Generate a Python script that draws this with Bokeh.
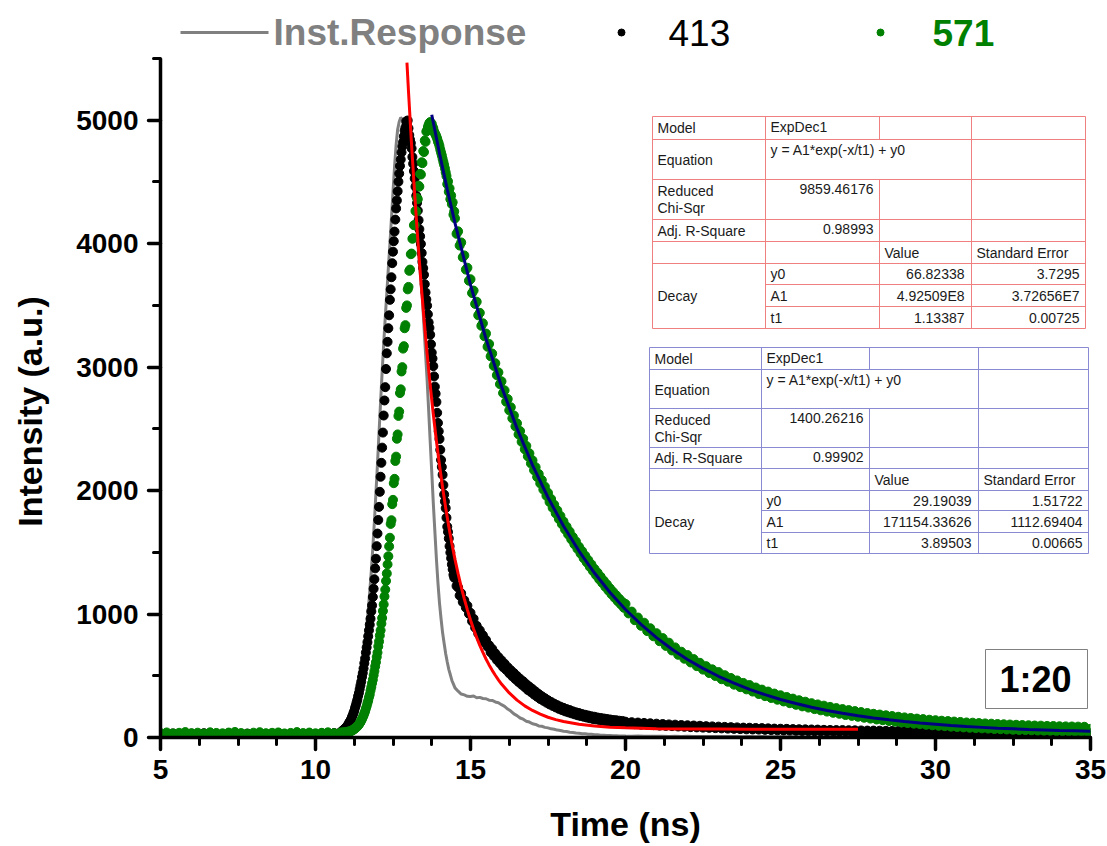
import numpy as np
from bokeh.plotting import figure
from bokeh.models import Range1d, SingleIntervalTicker
from bokeh.core.properties import value
from bokeh.embed import file_html
from bokeh.resources import INLINE

FONT = "Liberation Sans"

# ---------------- data ----------------
# time channels (ns) for the measured decays
t_base = np.round(5.0 + 0.2 * np.arange(29), 3)      # 5.0 .. 10.6
t_peak = np.round(10.8 + 0.025 * np.arange(148), 3)  # 10.8 .. 14.475
t_decay = np.round(14.5 + 0.05 * np.arange(110), 3)  # 14.5 .. 19.95
t_tail = np.round(20.0 + 0.1 * np.arange(151), 3)    # 20.0 .. 35.0

# time channels (ns) for the instrument response line
ti_base = np.round(5.0 + 0.2 * np.arange(29), 3)
ti_peak = np.round(10.8 + 0.05 * np.arange(74), 3)
ti_decay = np.round(14.5 + 0.1 * np.arange(55), 3)
ti_tail = np.round(20.0 + 0.2 * np.arange(76), 3)

inst_base = [22, 26, 24, 21, 27, 25, 23, 28, 24, 22, 26, 25, 21, 27, 24, 23, 26, 22, 25, 28,
             24, 21, 26, 25, 23, 27, 24, 26, 28]
inst_peak = [30, 35, 41, 52, 63, 82, 104, 137, 168, 217,
             263, 328, 392, 478, 562, 668, 772, 898, 1028, 1182,
             1348, 1542, 1748, 1982, 2218, 2472, 2718, 2962, 3188, 3402,
             3598, 3802, 3998, 4205, 4418, 4622, 4798, 4925, 4988, 5022,
             5008, 4992, 4958, 4905, 4838, 4782, 4648, 4482, 4328, 4172,
             3998, 3852, 3698, 3552, 3328, 3112, 2898, 2652, 2398, 2152,
             1898, 1672, 1448, 1252, 1088, 962, 848, 762, 678, 612,
             552, 508, 462, 432]
inst_decay = [402, 375, 352, 345, 334, 332, 336, 322, 325, 316,
              314, 302, 300, 288, 282, 266, 252, 230, 214, 191,
              177, 158, 148, 132, 125, 111, 106, 94, 91, 82,
              78, 70, 67, 60, 57, 51, 49, 43, 41, 36,
              35, 30, 30, 26, 26, 22, 22, 19, 19, 16,
              17, 14, 15, 13, 13]
inst_tail = [12, 11, 12, 10, 11, 10, 11, 9, 10, 9,
             10, 9, 9, 8, 9, 8, 9, 8, 8, 7,
             8, 7, 8, 7, 7, 6, 7, 6, 7, 6,
             7, 6, 6, 5, 6, 5, 6, 5, 6, 5,
             6, 5, 5, 4, 5, 4, 5, 4, 5, 4,
             5, 4, 5, 4, 4, 3, 4, 3, 4, 3,
             4, 3, 4, 3, 4, 3, 3, 2, 3, 2,
             3, 2, 3, 2, 3, 2]

em413_base = [31, 27, 33, 29, 26, 32, 30, 35, 28, 31, 27, 34, 30, 26, 32, 29, 33, 28, 31, 35,
              27, 30, 33, 29, 32, 28, 34, 31, 36]
em413_peak = [40, 44, 52, 55, 61, 66, 73, 79,
              85, 95, 101, 114, 126, 136, 149, 166,
              180, 198, 216, 240, 260, 284, 306, 336,
              360, 392, 422, 452, 490, 522, 560, 602,
              640, 688, 730, 772, 820, 868, 914, 962,
              1022, 1070, 1138, 1205, 1282, 1370, 1448, 1550,
              1652, 1762, 1868, 1990, 2112, 2225, 2348, 2470,
              2608, 2730, 2838, 2985, 3112, 3205, 3315, 3420,
              3545, 3630, 3728, 3842, 3935, 4020, 4098, 4195,
              4285, 4350, 4425, 4502, 4568, 4630, 4682, 4740,
              4788, 4822, 4870, 4915, 4942, 4990, 4975, 4998,
              4935, 4880, 4842, 4815, 4772, 4702, 4648, 4588,
              4528, 4462, 4388, 4330, 4268, 4190, 4118, 4060,
              3998, 3925, 3852, 3802, 3748, 3672, 3605, 3548,
              3498, 3428, 3362, 3318, 3262, 3185, 3118, 3070,
              3008, 2925, 2842, 2785, 2718, 2630, 2548, 2480,
              2418, 2330, 2248, 2192, 2128, 2045, 1968, 1912,
              1858, 1780, 1708, 1665, 1612, 1550, 1498, 1452,
              1402, 1362, 1318, 1295]
em413_decay = [1292, 1228, 1215, 1150, 1168, 1098, 1112, 1052, 1068, 1002,
               1010, 942, 962, 890, 905, 842, 868, 800, 828, 770,
               790, 735, 748, 690, 718, 660, 682, 628, 652, 600,
               625, 570, 598, 548, 570, 520, 545, 495, 522, 472,
               498, 450, 475, 428, 455, 408, 432, 385, 412, 368,
               392, 348, 372, 330, 352, 312, 334, 298, 318, 282,
               302, 268, 288, 256, 274, 244, 262, 232, 250, 222,
               240, 212, 230, 204, 222, 196, 212, 188, 204, 180,
               198, 174, 190, 168, 184, 162, 178, 156, 172, 150,
               168, 146, 162, 142, 158, 138, 154, 134, 150, 130,
               146, 126, 142, 124, 140, 120, 136, 118, 134, 115]
em413_tail = [128, 112, 124, 108, 121, 104, 118, 103, 115, 100,
              112, 96, 109, 94, 106, 92, 104, 89, 101, 87,
              99, 84, 97, 82, 95, 80, 92, 78, 90, 76,
              88, 74, 86, 72, 84, 70, 82, 68, 80, 66,
              79, 65, 77, 64, 76, 62, 74, 60, 72, 58,
              71, 57, 70, 56, 68, 55, 67, 53, 66, 52,
              65, 51, 64, 50, 62, 49, 61, 48, 60, 47,
              60, 46, 59, 45, 58, 44, 57, 43, 56, 42,
              56, 42, 55, 41, 54, 40, 53, 40, 52, 39,
              52, 38, 51, 38, 50, 37, 50, 36, 49, 36,
              49, 35, 48, 35, 47, 34, 47, 34, 46, 33,
              46, 33, 45, 32, 45, 32, 44, 31, 44, 31,
              43, 30, 43, 30, 42, 29, 42, 29, 41, 28,
              41, 28, 40, 28, 40, 27, 39, 27, 39, 26,
              38, 26, 38, 25, 37, 25, 37, 24, 36, 24,
              30]

em571_base = [36, 41, 33, 38, 44, 35, 39, 32, 42, 37, 34, 40, 45, 36, 31, 39, 43, 35, 38, 41,
              33, 37, 44, 36, 40, 34, 38, 42, 35]
em571_peak = [37, 41, 36, 40, 38, 43, 39, 42,
              41, 46, 44, 49, 47, 53, 52, 58,
              58, 66, 67, 75, 77, 86, 89, 99,
              104, 116, 124, 138, 149, 164, 178, 196,
              213, 234, 254, 278, 298, 326, 348, 380,
              408, 440, 468, 505, 538, 576, 610, 652,
              688, 738, 778, 826, 868, 922, 968, 1025,
              1078, 1142, 1198, 1268, 1328, 1402, 1468, 1548,
              1618, 1730, 1760, 1890, 1925, 2060, 2095, 2240,
              2275, 2420, 2455, 2605, 2640, 2790, 2820, 2965,
              3000, 3150, 3170, 3315, 3340, 3480, 3500, 3630,
              3650, 3780, 3790, 3915, 3920, 4040, 4045, 4150,
              4150, 4265, 4262, 4370, 4360, 4470, 4462, 4565,
              4560, 4660, 4652, 4750, 4742, 4836, 4825, 4908,
              4918, 4945, 4962, 4978, 4985, 4968, 4972, 4948,
              4935, 4910, 4895, 4882, 4868, 4850, 4828, 4812,
              4790, 4762, 4738, 4715, 4688, 4662, 4638, 4610,
              4578, 4548, 4482, 4505, 4420, 4448, 4360, 4390,
              4320, 4335, 4235, 4262]
em571_decay = [4205, 4080, 4100, 3985, 4010, 3890, 3905, 3790, 3805, 3700,
               3712, 3600, 3620, 3512, 3530, 3420, 3440, 3335, 3355, 3250,
               3272, 3165, 3188, 3088, 3110, 3010, 3032, 2935, 2958, 2862,
               2885, 2790, 2812, 2720, 2742, 2650, 2675, 2585, 2608, 2520,
               2545, 2455, 2482, 2395, 2420, 2335, 2362, 2278, 2302, 2220,
               2245, 2165, 2190, 2110, 2135, 2058, 2085, 2008, 2032, 1958,
               1982, 1908, 1932, 1860, 1885, 1815, 1840, 1770, 1795, 1728,
               1750, 1685, 1708, 1645, 1668, 1605, 1625, 1565, 1588, 1528,
               1545, 1490, 1510, 1452, 1472, 1418, 1437, 1382, 1402, 1348,
               1366, 1315, 1335, 1282, 1302, 1252, 1270, 1220, 1240, 1190,
               1208, 1160, 1180, 1132, 1152, 1104, 1124, 1078, 1098, 1050]
em571_tail = [1082, 1005, 1020, 950, 972, 905, 930, 862, 885, 820,
              845, 780, 805, 742, 768, 705, 730, 670, 695, 638,
              668, 608, 635, 578, 605, 550, 578, 522, 552, 498,
              530, 472, 505, 452, 482, 428, 462, 408, 442, 390,
              425, 372, 405, 352, 388, 335, 372, 320, 356, 306,
              342, 292, 328, 278, 315, 265, 302, 252, 290, 242,
              278, 230, 268, 220, 258, 210, 248, 200, 238, 192,
              230, 182, 222, 175, 214, 168, 206, 160, 198, 153,
              192, 146, 186, 140, 180, 134, 174, 128, 168, 122,
              163, 117, 158, 112, 153, 108, 149, 103, 144, 99,
              140, 95, 136, 92, 133, 88, 129, 85, 126, 82,
              122, 79, 120, 76, 117, 74, 114, 72, 112, 69,
              109, 67, 107, 65, 105, 63, 103, 61, 101, 60,
              99, 58, 97, 56, 96, 55, 94, 54, 93, 52,
              91, 51, 90, 50, 89, 49, 88, 48, 87, 47,
              70]

fit413_x = [12.95, 13.0, 13.1, 13.2, 13.3, 13.4, 13.5, 13.6, 13.7, 13.8,
            13.9, 14.0, 14.1, 14.2, 14.3, 14.4, 14.5, 14.6, 14.7, 14.8,
            14.9, 15.0, 15.1, 15.2, 15.3, 15.4, 15.5, 15.6, 15.7, 15.8,
            15.9, 16.0, 16.25, 16.5, 16.75, 17.0, 17.25, 17.5, 17.75, 18.0,
            18.5, 19.0, 19.5, 20.0, 21.0, 22.0, 23.0, 24.0, 27.5]
fit413_y = [5466, 5233, 4797, 4397, 4032, 3697, 3391, 3110, 2853, 2618,
            2403, 2205, 2025, 1860, 1708, 1570, 1443, 1327, 1220, 1123,
            1034, 952, 877, 809, 746, 689, 636, 588, 544, 504,
            467, 433, 361, 303, 256, 219, 189, 164, 145, 130,
            107, 93, 84, 78, 71, 69, 68, 67, 67]

fit571_x = [13.75, 14.0, 14.25, 14.5, 15.0, 15.5, 16.0, 16.5, 17.0, 17.5,
            18.0, 18.5, 19.0, 19.5, 20.0, 20.5, 21.0, 21.5, 22.0, 22.5,
            23.0, 23.5, 24.0, 24.5, 25.0, 25.5, 26.0, 26.5, 27.0, 27.5,
            28.0, 28.5, 29.0, 29.5, 30.0, 30.5, 31.0, 31.5, 32.0, 32.5,
            33.0, 33.5, 34.0, 34.5, 35.0]
fit571_y = [5044, 4732, 4440, 4166, 3667, 3229, 2843, 2504, 2206, 1944,
            1713, 1510, 1332, 1175, 1037, 916, 809, 715, 632, 560,
            496, 440, 390, 347, 308, 275, 245, 219, 196, 176,
            158, 143, 129, 117, 107, 97, 89, 82, 75, 70,
            65, 61, 57, 54, 51]

time_ns = np.concatenate([t_base, t_peak, t_decay, t_tail])
time_inst = np.concatenate([ti_base, ti_peak, ti_decay, ti_tail])
inst_response = inst_base + inst_peak + inst_decay + inst_tail
em_413 = em413_base + em413_peak + em413_decay + em413_tail
em_571 = em571_base + em571_peak + em571_decay + em571_tail
assert len(time_inst) == len(inst_response), (len(time_inst), len(inst_response))
assert len(time_ns) == len(em_413) == len(em_571), (len(time_ns), len(em_413), len(em_571))
assert len(fit413_x) == len(fit413_y) and len(fit571_x) == len(fit571_y)

legend_labels = ["Inst.Response", "413", "571"]
table_rows_labels = ["Model", "Equation", "Reduced", "Chi-Sqr", "Adj. R-Square", "Value",
                     "Standard Error", "Decay", "y0", "A1", "t1"]
fit413_table = ["ExpDec1", "y = A1*exp(-x/t1) + y0", "9859.46176", "0.98993",
                "66.82338", "4.92509E8", "1.13387", "3.7295", "3.72656E7", "0.00725"]
fit571_table = ["ExpDec1", "y = A1*exp(-x/t1) + y0", "1400.26216", "0.99902",
                "29.19039", "171154.33626", "3.89503", "1.51722", "1112.69404", "0.00665"]

# ---------------- figure ----------------
X0, X1, YMAX_AXIS = 5.0, 35.0, 5500.0
FL, FR, FB = 160, 1090, 737      # frame edges in page pixels (frame reaches page top)
AXIS_TOP = 58                    # page pixel where the y axis ends (5500)
Y_PER_PX = YMAX_AXIS / (FB - AXIS_TOP)
Y1 = FB * Y_PER_PX


def dx(px):
    return X0 + (px - FL) * (X1 - X0) / (FR - FL)


def dy(py):
    return (FB - py) * Y_PER_PX


p = figure(width=1107, height=846, x_range=Range1d(X0, X1), y_range=Range1d(0, Y1),
           output_backend="svg", toolbar_location=None,
           min_border_left=FL, min_border_right=1107 - FR,
           min_border_top=0, min_border_bottom=846 - FB)
p.outline_line_color = None
p.xgrid.visible = False
p.ygrid.visible = False
p.background_fill_color = "white"
p.border_fill_color = "white"

p.xaxis.ticker = SingleIntervalTicker(interval=5, num_minor_ticks=4)
p.yaxis.ticker = SingleIntervalTicker(interval=1000, num_minor_ticks=2)
p.yaxis.bounds = (0, YMAX_AXIS)
p.xaxis.axis_label = "Time (ns)"
# non-breaking spaces move the centred label down to the middle of the drawn axis
p.yaxis.axis_label = "Intensity (a.u.)" + "\u00a0" * 9
for ax in (p.xaxis[0], p.yaxis[0]):
    ax.axis_line_width = 3.5
    ax.axis_line_color = "black"
    ax.major_tick_line_width = 3.5
    ax.minor_tick_line_width = 3
    ax.major_tick_line_cap = "round"
    ax.minor_tick_line_cap = "round"
    ax.major_tick_in = 0
    ax.major_tick_out = 12
    ax.minor_tick_in = 0
    ax.minor_tick_out = 7
    ax.major_label_text_font = FONT
    ax.major_label_text_font_size = "28px"
    ax.major_label_text_font_style = "bold"
    ax.major_label_text_color = "black"
    ax.axis_label_text_font = FONT
    ax.axis_label_text_font_size = "34px"
    ax.axis_label_text_font_style = "bold"
    ax.axis_label_text_color = "black"
p.xaxis.major_label_standoff = 10
p.xaxis.axis_label_standoff = 23
p.yaxis.major_label_standoff = 10
p.yaxis.axis_label_standoff = 24

# data
p.line(time_inst, inst_response, line_color="#808080", line_width=3)
p.scatter(time_ns, em_413, size=9, fill_color="black", line_color="black")
p.scatter(time_ns, em_571, size=9, fill_color="#008000", line_color="#008000")
p.line(fit413_x, fit413_y, line_color="#ff0000", line_width=3)
p.line(fit571_x, fit571_y, line_color="#000080", line_width=3)


# ---------------- fit tables ----------------
def draw_table(cols, rows, color, vals):
    c0, c1, c2, c3, c4 = cols
    r = rows
    p.quad(left=[dx(c0)], right=[dx(c4)], top=[dy(r[0])], bottom=[dy(r[8])],
           fill_color="white", line_color=None)
    segs = []
    for i in (0, 1, 2, 3, 4, 5, 8):
        segs.append((c0, r[i], c4, r[i]))
    for i in (6, 7):
        segs.append((c1, r[i], c4, r[i]))
    for c in (c0, c1, c3, c4):
        segs.append((c, r[0], c, r[8]))
    segs.append((c2, r[0], c2, r[1]))
    segs.append((c2, r[2], c2, r[8]))
    p.segment(x0=[dx(s[0]) for s in segs], y0=[dy(s[1]) for s in segs],
              x1=[dx(s[2]) for s in segs], y1=[dy(s[3]) for s in segs],
              line_color=color, line_width=1)
    L = table_rows_labels
    left_items = [
        (c0 + 5, (r[0] + r[1]) / 2, L[0]),
        (c1 + 5, r[0] + 10, vals[0]),
        (c0 + 5, r[1] + 20, L[1]),
        (c1 + 5, r[1] + 10, vals[1]),
        (c0 + 5, r[2] + 11, L[2]),
        (c0 + 5, r[2] + 28, L[3]),
        (c0 + 5, (r[3] + r[4]) / 2, L[4]),
        (c2 + 5, (r[4] + r[5]) / 2, L[5]),
        (c3 + 5, (r[4] + r[5]) / 2, L[6]),
        (c0 + 5, (r[5] + r[8]) / 2, L[7]),
        (c1 + 5, (r[5] + r[6]) / 2, L[8]),
        (c1 + 5, (r[6] + r[7]) / 2, L[9]),
        (c1 + 5, (r[7] + r[8]) / 2, L[10]),
    ]
    right_items = [
        (c2 - 6, r[2] + 9, vals[2]),
        (c2 - 6, r[3] + 9, vals[3]),
        (c3 - 7, (r[5] + r[6]) / 2, vals[4]),
        (c3 - 7, (r[6] + r[7]) / 2, vals[5]),
        (c3 - 7, (r[7] + r[8]) / 2, vals[6]),
        (c4 - 6, (r[5] + r[6]) / 2, vals[7]),
        (c4 - 6, (r[6] + r[7]) / 2, vals[8]),
        (c4 - 6, (r[7] + r[8]) / 2, vals[9]),
    ]
    for items, align in ((left_items, "left"), (right_items, "right")):
        p.text(x=[dx(a) for a, _, _ in items], y=[dy(b) for _, b, _ in items],
               text=[s for _, _, s in items], text_font=value(FONT), text_font_size="14px",
               text_align=align, text_baseline="middle", text_color="#1a1a1a")


draw_table([652, 765, 879, 971, 1085], [116, 139, 179, 219, 241, 263, 284, 306, 328],
           "#f08080", fit413_table)
draw_table([649, 761, 869, 978, 1088], [347, 369, 408, 447, 468, 490, 510, 532, 553],
           "#8a8ad2", fit571_table)

# ratio box
p.quad(left=[dx(985)], right=[dx(1087)], top=[dy(649)], bottom=[dy(708)],
       fill_color="white", line_color="#808080", line_width=1)
p.text(x=[dx(1035)], y=[dy(679)], text=["1:20"], text_font=value(FONT),
       text_font_size="36px", text_font_style="bold", text_align="center",
       text_baseline="middle", text_color="black")

# ---------------- legend (top strip, above the y axis end) ----------------
LY = dy(32)
p.line([dx(180), dx(268)], [LY, LY], line_color="#808080", line_width=3)
p.scatter([dx(621)], [LY], size=7, fill_color="black", line_color="black")
p.scatter([dx(880)], [LY], size=7, fill_color="#008000", line_color="#008000")
p.text(x=[dx(273)], y=[LY], text=[legend_labels[0]], text_font=value(FONT),
       text_font_size="37px", text_font_style="bold", text_color="#808080",
       text_align="left", text_baseline="middle")
p.text(x=[dx(668)], y=[LY], text=[legend_labels[1]], text_font=value(FONT),
       text_font_size="37px", text_color="black",
       text_align="left", text_baseline="middle")
p.text(x=[dx(932)], y=[LY], text=[legend_labels[2]], text_font=value(FONT),
       text_font_size="37px", text_font_style="bold", text_color="#008000",
       text_align="left", text_baseline="middle")

open("out.html", "w").write(file_html(p, INLINE))
